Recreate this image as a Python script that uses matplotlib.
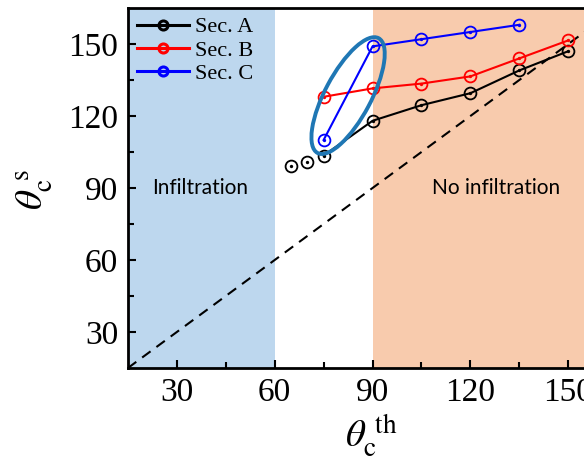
import matplotlib as mpl
mpl.use('Agg')
import matplotlib.pyplot as plt
import matplotlib.transforms as mtransforms
from matplotlib.patches import Ellipse
from matplotlib.lines import Line2D

plt.rcParams['font.family'] = ['Liberation Serif', 'DejaVu Serif']
plt.rcParams['mathtext.fontset'] = 'stix'

# data
sec_a_x = [65, 70, 75, 90, 105, 120, 135, 150]
sec_a_y = [99, 101, 103.5, 118, 124.5, 129.5, 139, 147]
sec_b_x = [75, 90, 105, 120, 135, 150]
sec_b_y = [128, 131.5, 133.5, 136.5, 144, 151.5]
sec_c_x = [75, 90, 105, 120, 135]
sec_c_y = [110, 149, 152, 155, 158]
diag = [15, 155]
x_ticks = [30, 60, 90, 120, 150]
y_ticks = [30, 60, 90, 120, 150]
infil_span = (15, 60)
noinfil_span = (90, 155)

fig = plt.figure(figsize=(5.84, 4.70), dpi=100)
ax = fig.add_axes([0.219, 0.217, 0.782, 0.766])

ax.axvspan(*infil_span, color='#bdd7ee', lw=0, zorder=0)
ax.axvspan(*noinfil_span, color='#f8cbad', lw=0, zorder=0)
ax.plot(diag, diag, color='black', ls=(0, (5, 3.5)), lw=1.5, zorder=1)

handles = []
for xs, ys, col, lab, first in [(sec_a_x, sec_a_y, 'black', 'Sec. A', 2),
                                (sec_b_x, sec_b_y, 'red', 'Sec. B', 0),
                                (sec_c_x, sec_c_y, 'blue', 'Sec. C', 0)]:
    ax.plot(xs[first:], ys[first:], color=col, lw=1.5, zorder=2)
    ax.plot(xs, ys, ls='none', marker='o', ms=8.5, mfc='none', mec=col, mew=1.3, zorder=3)
    ax.plot(xs, ys, ls='none', marker='o', ms=2.4, mfc=col, mec=col, mew=0, zorder=3)
    h1 = Line2D([], [], color=col, lw=2.2, marker='o', ms=6.5, mfc='none', mec=col, mew=2.2)
    h2 = Line2D([], [], ls='none', marker='o', ms=2, mfc=col, mec=col, mew=0)
    handles.append(((h1, h2), lab))

# ellipse drawn in inches around a data point
trans = fig.dpi_scale_trans + mtransforms.ScaledTranslation(82.5, 128.5, ax.transData)
ell = Ellipse((0, 0), 1.30, 0.46, angle=62, fill=False, ec='#1f77b4', lw=2.8,
              transform=trans, zorder=4)
ax.add_patch(ell)

ax.text(37, 90, 'Infiltration', family='Lato', fontsize=15, ha='center', va='center')
ax.text(128, 90, 'No infiltration', family='Lato', fontsize=15, ha='center', va='center')

leg = ax.legend([h for h, l in handles], [l for h, l in handles], loc='upper left',
                frameon=False, fontsize=16, handlelength=2.35, handletextpad=0.27,
                labelspacing=0.12, borderaxespad=0.0, borderpad=0.4)

ax.set_xlim(15, 155)
ax.set_ylim(15, 165)
ax.set_xticks(x_ticks)
ax.set_yticks(y_ticks)
ax.set_xticks([45, 75, 105, 135], minor=True)
ax.set_yticks([45, 75, 105, 135], minor=True)
ax.tick_params(which='major', direction='in', length=6, width=1.5, labelsize=24, pad=7)
ax.tick_params(which='minor', direction='in', length=4, width=1.5)
for s in ax.spines.values():
    s.set_linewidth(2)

fig.text(0.635, 0.072, r'$\theta_{\rm c}^{\ \rm th}$', fontsize=28, ha='center', va='center')
fig.text(0.06, 0.596, r'$\theta_{\rm c}^{\ \rm s}$', fontsize=28, ha='center', va='center',
         rotation=90)

fig.savefig('out.png', dpi=100)
